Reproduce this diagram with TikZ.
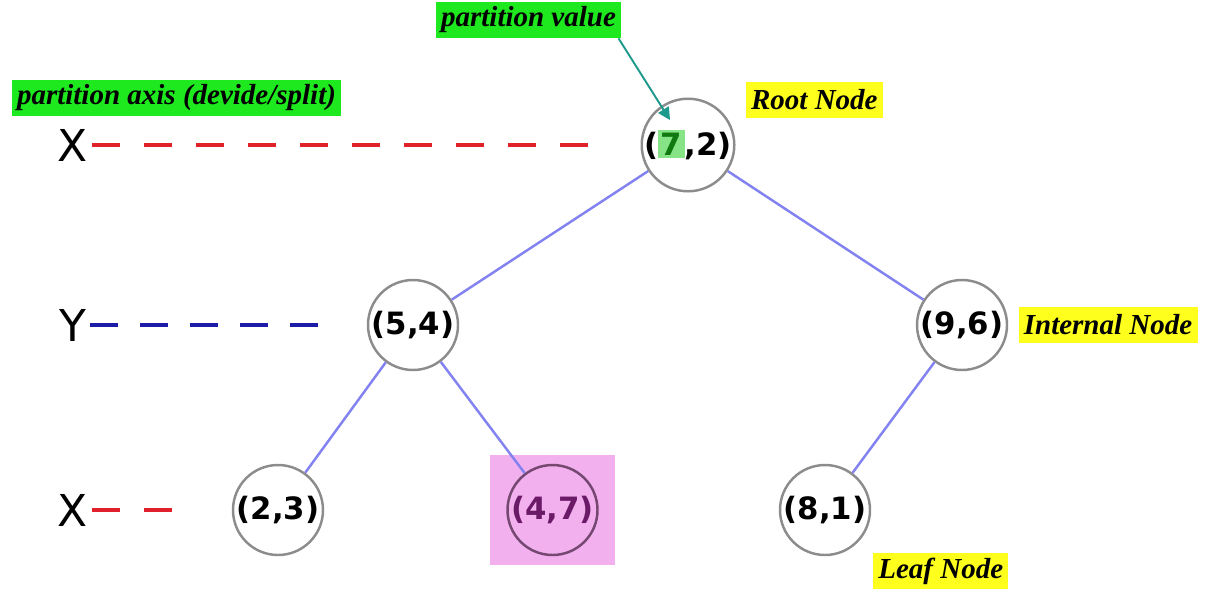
\documentclass[tikz,border=0pt]{standalone}
\usepackage{fontspec}
\setmainfont{DejaVu Sans}
\newfontfamily\lblfont{Liberation Serif}
\usetikzlibrary{positioning,arrows.meta}
\definecolor{edgeblue}{HTML}{8282F0}
\definecolor{axisred}{HTML}{E0202A}
\definecolor{axisblue}{HTML}{1C1CA8}
\definecolor{tagGreen}{HTML}{1EE81E}
\definecolor{tagYellow}{HTML}{FFFF1E}
\definecolor{hlgreen}{HTML}{86E486}
\definecolor{darkgreen}{HTML}{107A10}
\definecolor{pinkhl}{HTML}{F2B0EE}
\definecolor{plum}{HTML}{6A1A66}
\definecolor{teal}{HTML}{1E9A8C}

\def\axisrow#1#2#3#4#5 {
      \node[axislbl] (ax#1) at (1.46,#3) {#2};
      \coordinate (end#1) at (#4,#3);
      \draw[#5] (ax#1.east) -- (end#1);
  }

\begin{document}
\begin{tikzpicture}[
  kd/.style = {draw=gray!90, line width=1.4pt, circle, minimum size=1.8cm,
    inner sep=0pt, font=\bfseries\fontsize{17.5}{20}\selectfont},
  edge/.style = {draw=edgeblue, line width=1.4pt},
  axislbl/.style = {inner sep=2pt, font=\fontsize{25}{28}\selectfont},
  reddash/.style = {axisred, line width=2.3pt, dash pattern=on 0.56cm off 0.48cm},
  bluedash/.style = {axisblue, line width=2.3pt, dash pattern=on 0.56cm off 0.44cm},
  tag/.style = {inner xsep=3pt, inner ysep=0pt, minimum height=0.72cm,
    font=\lblfont\bfseries\itshape\fontsize{16.5}{19}\selectfont},
  greentag/.style = {tag, fill=tagGreen},
  yellowtag/.style = {tag, fill=tagYellow}]

 \useasboundingbox (0,0) rectangle (24.52,11.88);

 % highlighted leaf
 \node[fill=pinkhl, minimum width=2.5cm, minimum height=2.2cm] (hl) at (11.05,1.68) {};

 \node[kd] (root) at (13.76,8.98)
   {({\fboxsep=1.5pt\colorbox{hlgreen}{\textcolor{darkgreen}{7}}},2)};
 \node[kd] (n54) at (8.26,5.38) {(5,4)};
 \node[kd] (n96) at (19.24,5.38) {(9,6)};
 \node[kd] (n23) at (5.56,1.68) {(2,3)};
 \node[kd, draw=plum!55!gray, text=plum] (n47) at (hl) {(4,7)};
 \node[kd] (n81) at (16.5,1.68) {(8,1)};

 \path[edge] (root) -- (n54);
 \path[edge] (root) -- (n96);
 \path[edge] (n54) -- (n23);
 \path[edge] (n54) -- (n47);
 \path[edge] (n96) -- (n81);

 \axisrow{1}{X}{8.98}{11.9}{reddash}
 \axisrow{2}{Y}{5.38}{6.45}{bluedash}
 \axisrow{3}{X}{1.68}{3.7}{reddash}

 \node[greentag] (pv) at (10.57,11.48) {partition value};
 \node[greentag] (pa) at (3.53,9.93) {partition axis (devide/split)};
 \node[yellowtag, right=0.2cm of root, yshift=0.91cm] (rootlbl) {Root Node};
 \node[yellowtag, right=0.2cm of n96] (intlbl) {Internal Node};
 \node[yellowtag, below right=0.2cm and 0.3cm of n81] (leaflbl) {Leaf Node};

 \coordinate (seven) at ([xshift=-0.36cm,yshift=0.5cm]root.center);
 \draw[teal, line width=1.1pt, -{Triangle[length=7pt,width=7pt]}]
   ([xshift=-0.06cm]pv.south east) -- (seven);
\end{tikzpicture}
\end{document}
